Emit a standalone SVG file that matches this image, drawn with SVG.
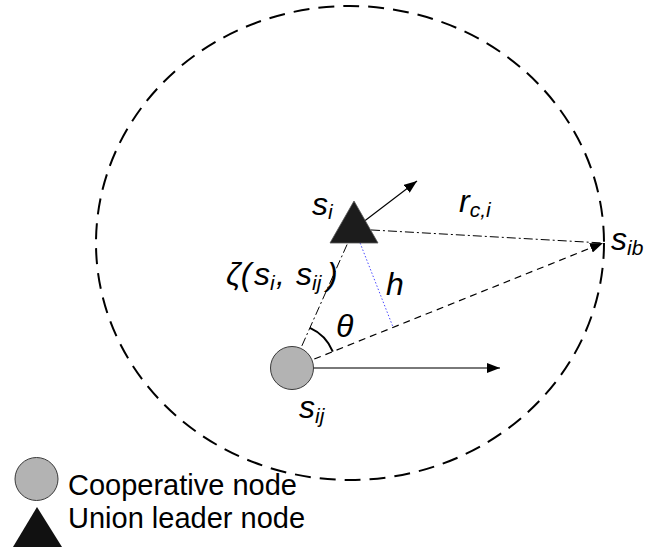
<svg xmlns="http://www.w3.org/2000/svg" width="659" height="547" viewBox="0 0 659 547">
<style>
.lbl{font-family:"Liberation Sans",Arial,sans-serif;font-style:italic;font-size:32px;fill:#000}
.sub{font-size:21px}
.leg{font-family:"Liberation Sans",Arial,sans-serif;font-size:29px;fill:#000}
.dashdot{fill:none;stroke:#000;stroke-width:1;stroke-dasharray:9 3 2 3}
.dashed{fill:none;stroke:#000;stroke-width:1.2;stroke-dasharray:7 5}
.solid{fill:none;stroke:#000;stroke-width:1.2}
</style>
<defs>
<marker id="ah" viewBox="0 0 13 10" refX="13" refY="5" markerWidth="13" markerHeight="10" markerUnits="userSpaceOnUse" orient="auto">
<path d="M0,0 L13,5 L0,10 z" fill="#000"/>
</marker>
</defs>
<rect width="659" height="547" fill="#fff"/>
<g id="range">
<ellipse cx="350" cy="243" rx="254" ry="237" fill="none" stroke="#000" stroke-width="2" stroke-dasharray="16 9"/>
</g>
<g id="connectors">
<line class="dashdot" x1="354" y1="229" x2="292" y2="368"/>
<line class="dashdot" x1="354" y1="229" x2="603" y2="243"/>
<line class="dashed" x1="292" y1="368" x2="603" y2="243" marker-end="url(#ah)"/>
<line x1="355" y1="230" x2="393" y2="327" stroke="#4a4aff" stroke-width="1" stroke-dasharray="1.5 2"/>
<line class="solid" x1="354" y1="229" x2="417" y2="181" marker-end="url(#ah)"/>
<line x1="292" y1="368" x2="500" y2="368" stroke="#4d4d4d" stroke-width="1.6" marker-end="url(#ah)"/>
<path d="M309.9,327.8 A44,44 0 0 1 332.8,351.6" fill="none" stroke="#000" stroke-width="2"/>
</g>
<g id="node-si">
<polygon points="354,201 330,243 378,243" fill="#1c1c1c" stroke="#555" stroke-width="0.8"/>
<text class="lbl" x="312" y="215">s<tspan class="sub" dy="4">i</tspan></text>
</g>
<g id="node-sij">
<circle cx="292" cy="368" r="21.5" fill="#b3b3b3" stroke="#3a3a3a" stroke-width="1"/>
<text class="lbl" x="299" y="418">s<tspan class="sub" dy="5">ij</tspan></text>
</g>
<g id="node-sib">
<text class="lbl" x="611" y="250">s<tspan class="sub" dy="5">ib</tspan></text>
</g>
<g id="labels">
<text class="lbl" x="459" y="212">r<tspan class="sub" dy="5">c,i</tspan></text>
<text class="lbl" y="285"><tspan x="226">ζ(</tspan><tspan x="254">s</tspan><tspan class="sub" x="270" dy="5">i</tspan><tspan x="276" dy="-5">,</tspan><tspan x="296">s</tspan><tspan class="sub" x="312" dy="5">ij</tspan><tspan x="327" dy="-5">)</tspan></text>
<text class="lbl" x="386" y="295">h</text>
<text class="lbl" x="336" y="337">θ</text>
</g>
<g id="legend">
<g id="legend-coop">
<circle cx="36.5" cy="479" r="21.5" fill="#b3b3b3" stroke="#3a3a3a" stroke-width="1"/>
<text class="leg" x="68" y="495">Cooperative node</text>
</g>
<g id="legend-leader">
<polygon points="37,507 13,547 62,547" fill="#111"/>
<text class="leg" x="68" y="528">Union leader node</text>
</g>
</g>
</svg>
